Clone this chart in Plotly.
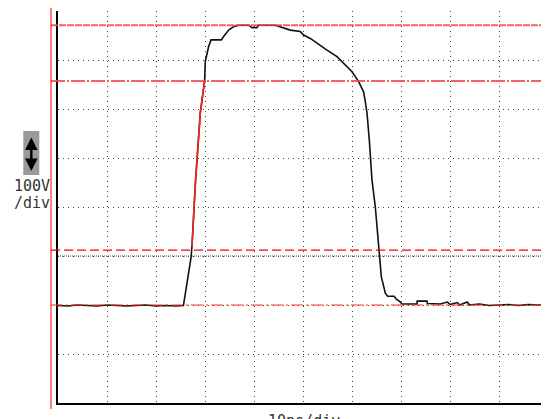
import plotly.graph_objects as go

# ---- data ----
t_ns = [0, 2, 4, 6, 8, 10, 12, 14, 16, 18, 20, 22, 24, 25.6,
        26.0, 26.45, 26.86, 27.14, 27.35, 27.55, 27.82, 28.08, 28.37, 28.69,
        29.04, 29.39, 29.71, 29.92, 30.06, 30.41, 30.73, 31.22, 33.33, 33.8,
        34.82, 35.84, 36.86, 38.9, 39.6, 40.6, 40.9, 44.35, 45.37, 47.41,
        49.45, 50.12, 51.49, 52.86, 54.9, 56.94, 58.63, 60.0, 61.35, 62.37,
        62.71, 63.06, 63.53, 64.08, 64.76, 65.43, 65.98, 66.8, 67.27, 68.6,
        69.04, 69.65, 70.2, 73.27, 73.3, 75.3, 75.37, 78.0, 79.5, 80.0,
        81.5, 82.0, 83.5, 84.0, 86.0, 88.0, 90.0, 92.0, 94.0, 96.0, 98.0, 100.0]
v_volts = [-1, -2, 0, -1, -2, 0, -1, -2, -1, 0, -2, -1, -2, -1,
           24, 51, 78, 96, 121, 173, 208, 255, 303, 343,
           392, 418, 449, 457, 497, 517, 527, 541, 541, 548,
           561, 568, 571, 571, 566, 566, 571, 571, 568, 561,
           558, 551, 544, 534, 520, 507, 490, 476, 456, 435,
           415, 392, 337, 255, 200, 112, 58, 24, 18, 18,
           12, 8, 2, 2, 8, 8, 3, 2, 6, 1,
           5, 0, 6, 0, 2, -1, 0, 1, -1, 1, 0, 2]

top_level = 571      # 100 % level (V)
level_80 = 457       # 80 % level (V)
level_20 = 112       # 20 % level (V)
base_level = 0       # 0 % level (V)
trig_level = 100     # gray dotted level (V)

x_range = [0, 100]     # 10 ns/div
y_range = [-200, 600]  # 100 V/div

# red rising-edge segment between the 20 % and 80 % levels
red_t = [t for t, v in zip(t_ns, v_volts) if t < 31 and level_20 <= v <= level_80]
red_v = [v for t, v in zip(t_ns, v_volts) if t < 31 and level_20 <= v <= level_80]

W, H = 549, 419
OFF = 8  # page offset of the figure (body margin)
ml, mt = 58 - OFF, 11 - OFF
pw, ph = 490, 392
mr = W - ml - pw
mb = H - mt - ph

def px_x(p):
    """page pixel x -> paper fraction"""
    return (p - OFF - ml) / pw

def px_y(p):
    """page pixel y -> paper fraction"""
    return (mt + ph - (p - OFF)) / ph

fig = go.Figure()
fig.add_trace(go.Scatter(x=t_ns, y=v_volts, mode="lines",
                         line=dict(color="#111111", width=1.6), hoverinfo="skip"))
fig.add_trace(go.Scatter(x=red_t, y=red_v, mode="lines",
                         line=dict(color="#ff2020", width=1.6), hoverinfo="skip"))

x_left = px_x(51)
shapes = [
    dict(type="line", xref="paper", yref="y", x0=x_left, x1=1.02, y0=top_level, y1=top_level,
         line=dict(color="rgba(240,70,70,0.85)", width=2, dash="7px,1px")),
    dict(type="line", xref="paper", yref="y", x0=x_left, x1=1.02, y0=level_80, y1=level_80,
         line=dict(color="rgba(240,70,70,0.85)", width=2, dash="14px,2px,2px,2px")),
    dict(type="line", xref="paper", yref="y", x0=x_left, x1=1.02, y0=level_20, y1=level_20,
         line=dict(color="#ff0000", width=1.3, dash="9px,4px")),
    dict(type="line", xref="paper", yref="y", x0=0, x1=1.02, y0=trig_level, y1=trig_level,
         line=dict(color="#555555", width=1, dash="1px,1px")),
    dict(type="line", xref="paper", yref="y", x0=x_left, x1=1.02, y0=base_level, y1=base_level,
         line=dict(color="#ff3030", width=1.2, dash="12px,3px,2px,3px")),
    dict(type="line", xref="paper", yref="paper", x0=x_left, x1=x_left,
         y0=px_y(7), y1=px_y(409), line=dict(color="#ff0000", width=1)),
    dict(type="rect", xref="paper", yref="paper", x0=px_x(23.3), x1=px_x(39.3),
         y0=px_y(175), y1=px_y(131), fillcolor="#9a9a9a", line=dict(width=0)),
]

annotations = [
    dict(xref="paper", yref="paper", x=px_x(32), y=px_y(186), text="100V",
         showarrow=False, xanchor="center", yanchor="middle",
         font=dict(family="DejaVu Sans Mono", size=15, color="#333333")),
    dict(xref="paper", yref="paper", x=px_x(32), y=px_y(203), text="/div",
         showarrow=False, xanchor="center", yanchor="middle",
         font=dict(family="DejaVu Sans Mono", size=15, color="#333333")),
    dict(xref="paper", yref="paper", x=px_x(304), y=px_y(410), text="10ns/div",
         showarrow=False, xanchor="center", yanchor="top",
         font=dict(family="DejaVu Sans Mono", size=15, color="#333333")),
    dict(xref="paper", yref="paper", x=px_x(31.3), y=px_y(171), text="",
         showarrow=True, ax=0, ay=-35, arrowside="end+start", arrowhead=2,
         arrowsize=1, arrowwidth=2.5, arrowcolor="#000000"),
]

grid = dict(showgrid=True, gridcolor="#444444", gridwidth=1, griddash="1px,4px",
            zeroline=False, showticklabels=False, ticks="",
            showline=True, linecolor="#000000", linewidth=1.5, mirror=False)

fig.update_layout(
    width=W, height=H,
    margin=dict(l=ml, r=mr, t=mt, b=mb, pad=0, autoexpand=False),
    paper_bgcolor="white", plot_bgcolor="white",
    showlegend=False,
    xaxis=dict(range=x_range, dtick=10, tick0=0, **grid),
    yaxis=dict(range=y_range, dtick=100, tick0=0, **grid),
    shapes=shapes, annotations=annotations,
)

fig.write_html("out.html")
